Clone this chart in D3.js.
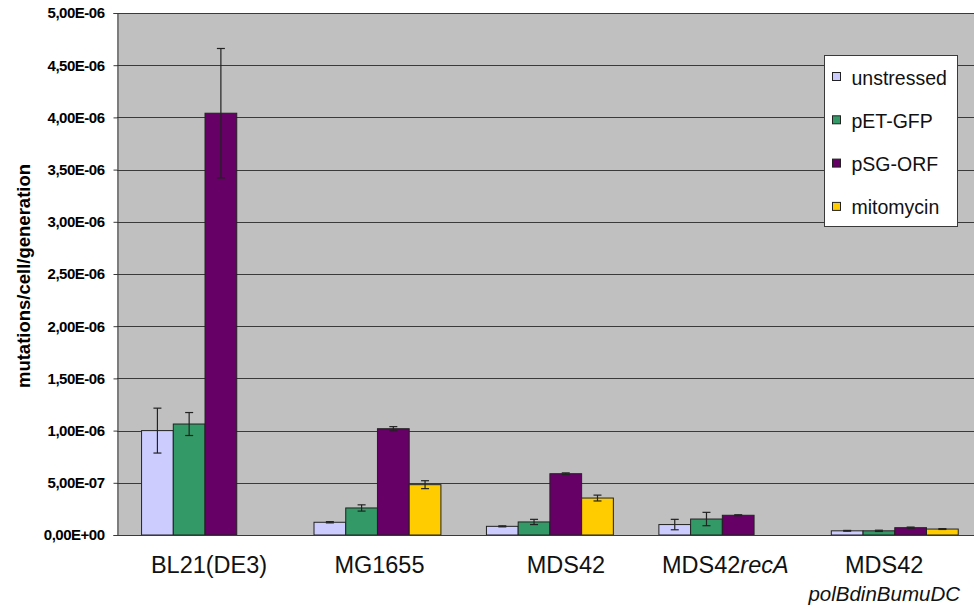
<!DOCTYPE html>
<html>
<head>
<meta charset="utf-8">
<script src="https://cdn.jsdelivr.net/npm/d3@7"></script>
<style>
  html, body { margin: 0; padding: 0; background: #fff; }
  svg { display: block; font-family: "Liberation Sans", Arial, sans-serif; }
</style>
</head>
<body>
<svg id="chart" width="974" height="609"></svg>
<script>
// Strains (x categories); the last one carries a second, italic line
const strains = ["BL21(DE3)", "MG1655", "MDS42", "MDS42recA", "MDS42"];
const strainItalic = [null, null, null, "recA", null];
const strainSubline = [null, null, null, null, "polBdinBumuDC"];

// Conditions (series)
const conditions = ["unstressed", "pET-GFP", "pSG-ORF", "mitomycin"];
const conditionColors = ["#ccccff", "#339966", "#660066", "#ffcc00"];

// Mutation rates (mutations/cell/generation) per condition, by strain
const unstressed = [1.00e-6, 0.122e-6, 0.083e-6, 0.100e-6, 0.040e-6];
const petGfp     = [1.063e-6, 0.259e-6, 0.125e-6, 0.153e-6, 0.040e-6];
const psgOrf     = [4.04e-6, 1.018e-6, 0.587e-6, 0.189e-6, 0.070e-6];
const mitomycin  = [null, 0.482e-6, 0.354e-6, null, 0.057e-6];

// Error (+/-) for each value
const unstressedErr = [0.215e-6, 0.006e-6, 0.005e-6, 0.050e-6, 0.004e-6];
const petGfpErr     = [0.110e-6, 0.030e-6, 0.025e-6, 0.064e-6, 0.006e-6];
const psgOrfErr     = [0.620e-6, 0.020e-6, 0.008e-6, 0.005e-6, 0.006e-6];
const mitomycinErr  = [null, 0.038e-6, 0.028e-6, null, 0.004e-6];

// Y axis ticks
const yTicks = [0, 5e-7, 1e-6, 1.5e-6, 2e-6, 2.5e-6, 3e-6, 3.5e-6, 4e-6, 4.5e-6, 5e-6];

const seriesValues = [unstressed, petGfp, psgOrf, mitomycin];
const seriesErrors = [unstressedErr, petGfpErr, psgOrfErr, mitomycinErr];

const svg = d3.select("#chart");
const plot = { left: 117, top: 13, right: 981, bottom: 535 };

// Scientific notation with decimal comma, e.g. 5,00E-06
function sci(v) {
  if (v === 0) return "0,00E+00";
  const s = v.toExponential(2); // "5.00e-6"
  const [m, e] = s.split("e");
  const n = parseInt(e, 10);
  const es = (n < 0 ? "-" : "+") + String(Math.abs(n)).padStart(2, "0");
  return m.replace(".", ",") + "E" + es;
}

const x0 = d3.scaleBand()
  .domain(d3.range(strains.length))
  .range([plot.left + 1.8, plot.right])
  .paddingInner(0.264)
  .paddingOuter(0.132);

const x1 = d3.scaleBand()
  .domain(d3.range(conditions.length))
  .range([0, x0.bandwidth()])
  .padding(0);

const y = d3.scaleLinear()
  .domain([0, 5e-6])
  .range([plot.bottom, plot.top]);

// Plot background
svg.append("rect")
  .attr("x", plot.left).attr("y", plot.top)
  .attr("width", 974 - plot.left).attr("height", plot.bottom - plot.top)
  .attr("fill", "#c0c0c0");

// Gridlines
svg.append("g")
  .selectAll("line")
  .data(yTicks)
  .join("line")
  .attr("x1", plot.left).attr("x2", 974)
  .attr("y1", d => Math.round(y(d)) + 0.5)
  .attr("y2", d => Math.round(y(d)) + 0.5)
  .attr("stroke", "#3a3a3a")
  .attr("stroke-width", 1);

// Y axis
const yAxis = svg.append("g")
  .attr("transform", `translate(${plot.left + 0.5},0)`)
  .call(d3.axisLeft(y).tickValues(yTicks).tickFormat(sci).tickSize(4).tickPadding(9));
yAxis.select(".domain").attr("stroke", "#3a3a3a");
yAxis.selectAll(".tick line").attr("stroke", "#3a3a3a");
yAxis.selectAll(".tick text")
  .attr("fill", "#000")
  .style("font-size", "15px")
  .style("font-weight", "bold")
  .style("letter-spacing", "-0.5px");

// Y axis title
svg.append("text")
  .attr("transform", "translate(30,276) rotate(-90)")
  .attr("text-anchor", "middle")
  .style("font-size", "18.5px")
  .style("font-weight", "bold")
  .text("mutations/cell/generation");

// Bars
const groups = svg.append("g")
  .selectAll("g")
  .data(strains.map((s, i) => i))
  .join("g")
  .attr("transform", i => `translate(${x0(i)},0)`);

groups.selectAll("rect")
  .data(i => conditions.map((c, k) => ({ k, v: seriesValues[k][i] })).filter(d => d.v != null))
  .join("rect")
  .attr("x", d => x1(d.k))
  .attr("y", d => y(d.v))
  .attr("width", x1.bandwidth())
  .attr("height", d => y(0) - y(d.v))
  .attr("fill", d => conditionColors[d.k])
  .attr("stroke", "#222")
  .attr("stroke-width", 1);

// Error bars
const err = groups.selectAll("g.err")
  .data(i => conditions.map((c, k) => ({ k, v: seriesValues[k][i], e: seriesErrors[k][i] })).filter(d => d.v != null && d.e != null))
  .join("g")
  .attr("class", "err")
  .attr("transform", d => `translate(${x1(d.k) + x1.bandwidth() / 2},0)`)
  .attr("stroke", "#222")
  .attr("stroke-width", 1.2);
err.append("line")
  .attr("x1", 0).attr("x2", 0)
  .attr("y1", d => y(d.v + d.e)).attr("y2", d => y(d.v - d.e));
err.append("line")
  .attr("x1", -4).attr("x2", 4)
  .attr("y1", d => y(d.v + d.e)).attr("y2", d => y(d.v + d.e));
err.append("line")
  .attr("x1", -4).attr("x2", 4)
  .attr("y1", d => y(d.v - d.e)).attr("y2", d => y(d.v - d.e));

// Bottom axis line
svg.append("line")
  .attr("x1", plot.left).attr("x2", 974)
  .attr("y1", plot.bottom + 0.5).attr("y2", plot.bottom + 0.5)
  .attr("stroke", "#3a3a3a");

// Category labels; keep them inside the drawing area on the right
const labelShift = [4, 2, 16, 3, 0];
const labels = svg.append("g")
  .selectAll("text")
  .data(strains.map((s, i) => i))
  .join("text")
  .attr("text-anchor", "middle")
  .attr("y", 573)
  .style("font-size", "23.5px")
  .attr("fill", "#111");
labels.each(function (i) {
  const t = d3.select(this);
  const name = strains[i];
  const it = strainItalic[i];
  if (it && name.endsWith(it)) {
    t.append("tspan").text(name.slice(0, name.length - it.length));
    t.append("tspan").style("font-style", "italic").text(it);
  } else {
    t.text(name);
  }
  let cx = x0(i) + x0.bandwidth() / 2 + labelShift[i];
  if (strainSubline[i]) {
    const sub = svg.append("text")
      .attr("text-anchor", "middle")
      .attr("y", 601)
      .style("font-size", "20.5px")
      .style("font-style", "italic")
      .attr("fill", "#111")
      .text(strainSubline[i]);
    const w = sub.node().getComputedTextLength();
    cx = Math.min(cx, 960 - w / 2);
    sub.attr("x", cx);
  }
  t.attr("x", cx);
});

// Legend
const legend = svg.append("g").attr("transform", "translate(824,55)");
legend.append("rect")
  .attr("x", 0.5).attr("y", 0.5)
  .attr("width", 133).attr("height", 171)
  .attr("fill", "#fff")
  .attr("stroke", "#3a3a3a");
const items = legend.selectAll("g.item")
  .data(conditions)
  .join("g")
  .attr("class", "item")
  .attr("transform", (d, k) => `translate(0,${17 + k * 43.3})`);
items.append("rect")
  .attr("x", 8.5).attr("y", 0.5)
  .attr("width", 8).attr("height", 8)
  .attr("fill", (d, k) => conditionColors[k])
  .attr("stroke", "#222");
items.append("text")
  .attr("x", 27.5).attr("y", 12.5)
  .style("font-size", "19.5px")
  .attr("fill", "#111")
  .text(d => d);
</script>
</body>
</html>
